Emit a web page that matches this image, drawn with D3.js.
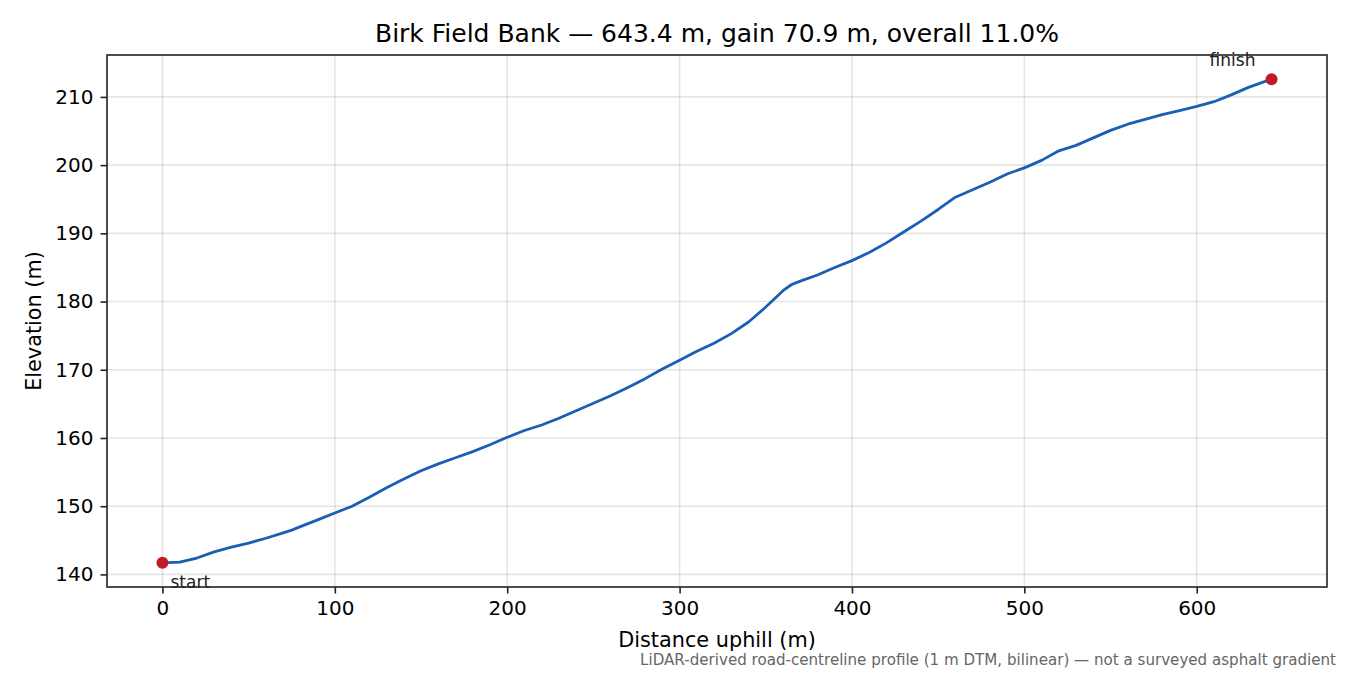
<!DOCTYPE html>
<html>
<head>
<meta charset="utf-8">
<script src="https://cdn.jsdelivr.net/npm/d3@7"></script>
<style>
  body { margin: 0; background: #fff; }
  svg { font-family: 'DejaVu Sans', sans-serif; }
</style>
</head>
<body>
<div id="chart"></div>
<script>
// profile (distance m, elevation m)
const distances = [0, 10, 20, 30, 40, 50, 60, 70, 75, 80, 90, 100, 110, 120, 130, 140,
  150, 160, 170, 180, 190, 200, 210, 220, 230, 240, 250, 260, 270, 280, 290, 300,
  310, 320, 330, 340, 350, 360, 365, 370, 380, 390, 400, 410, 420, 430, 440, 450,
  460, 470, 480, 490, 500, 510, 520, 530, 540, 550, 560, 570, 580, 590, 600, 610,
  620, 630, 643.4];
const elevations = [141.7, 141.8, 142.4, 143.3, 144.0, 144.6, 145.3, 146.1, 146.5, 147.0,
  148.0, 149.0, 150.0, 151.3, 152.7, 154.0, 155.2, 156.2, 157.1, 158.0, 159.0, 160.1,
  161.1, 161.9, 162.9, 164.0, 165.1, 166.2, 167.4, 168.7, 170.1, 171.4, 172.7, 173.9,
  175.3, 177.0, 179.2, 181.6, 182.5, 183.0, 183.9, 185.0, 186.0, 187.2, 188.6, 190.2,
  191.8, 193.5, 195.3, 196.4, 197.5, 198.7, 199.6, 200.7, 202.1, 202.9, 204.0, 205.1,
  206.0, 206.7, 207.4, 208.0, 208.6, 209.3, 210.3, 211.4, 212.6];
const xTicks = [0, 100, 200, 300, 400, 500, 600];
const yTicks = [140, 150, 160, 170, 180, 190, 200, 210];

const titleText = 'Birk Field Bank — 643.4 m, gain 70.9 m, overall 11.0%';
const footText = 'LiDAR-derived road-centreline profile (1 m DTM, bilinear) — not a surveyed asphalt gradient';

const width = 1350, height = 675;
const margins = {left: 107, right: 23, top: 55, bottom: 88};
const innerW = width - margins.left - margins.right;
const innerH = height - margins.top - margins.bottom;

const data = distances.map((d, i) => ({x: d, y: elevations[i]}));

// matplotlib-like 5% padding
const pad = (ext) => {
  const r = ext[1] - ext[0];
  return [ext[0] - r * 0.05, ext[1] + r * 0.05];
};

const scales = {
  x: d3.scaleLinear().domain(pad(d3.extent(distances))).range([0, innerW]),
  y: d3.scaleLinear().domain(pad(d3.extent(elevations))).range([innerH, 0]),
};

const svgRoot = d3.select('#chart').append('svg')
  .attr('width', width).attr('height', height);

const svg = svgRoot.append('g')
  .attr('transform', `translate(${margins.left},${margins.top})`);

// grid
svg.append('g').selectAll('line').data(xTicks).join('line')
  .attr('x1', (d) => scales.x(d)).attr('x2', (d) => scales.x(d))
  .attr('y1', 0).attr('y2', innerH)
  .attr('stroke', '#000').attr('stroke-opacity', 0.1).attr('stroke-width', 1.6);
svg.append('g').selectAll('line').data(yTicks).join('line')
  .attr('y1', (d) => scales.y(d)).attr('y2', (d) => scales.y(d))
  .attr('x1', 0).attr('x2', innerW)
  .attr('stroke', '#000').attr('stroke-opacity', 0.1).attr('stroke-width', 1.6);

// axes
const xAxis = svg.append('g')
  .attr('transform', `translate(0,${innerH})`)
  .call(d3.axisBottom(scales.x).tickValues(xTicks).tickSize(6.5).tickPadding(7));
const yAxis = svg.append('g')
  .call(d3.axisLeft(scales.y).tickValues(yTicks).tickSize(6.5).tickPadding(7));

[xAxis, yAxis].forEach((ax) => {
  ax.select('.domain').remove();
  ax.selectAll('.tick line').attr('stroke', '#222').attr('stroke-width', 1.6);
  ax.selectAll('.tick text')
    .attr('font-family', 'DejaVu Sans, sans-serif')
    .attr('font-size', 20).attr('fill', '#000');
});

// frame
svg.append('rect')
  .attr('width', innerW).attr('height', innerH)
  .attr('fill', 'none').attr('stroke', '#222').attr('stroke-width', 1.6);

// profile line
const line = d3.line().x((d) => scales.x(d.x)).y((d) => scales.y(d.y));
svg.append('path').datum(data)
  .attr('d', line)
  .attr('fill', 'none')
  .attr('stroke', '#1a5fb4')
  .attr('stroke-width', 2.8)
  .attr('stroke-linejoin', 'round');

// start / finish markers
const ends = [data[0], data[data.length - 1]];
svg.selectAll('circle.end').data(ends).join('circle')
  .attr('class', 'end')
  .attr('cx', (d) => scales.x(d.x)).attr('cy', (d) => scales.y(d.y))
  .attr('r', 6).attr('fill', '#c01c28');

svg.append('text')
  .attr('x', scales.x(ends[0].x) + 8).attr('y', scales.y(ends[0].y) + 25.5)
  .attr('font-size', 17).attr('fill', '#222').text('start');
svg.append('text')
  .attr('x', scales.x(ends[1].x) - 39).attr('y', scales.y(ends[1].y) - 13)
  .attr('text-anchor', 'middle')
  .attr('font-size', 17).attr('fill', '#222').text('finish');

// labels
svgRoot.append('text')
  .attr('x', margins.left + innerW / 2).attr('y', 42)
  .attr('text-anchor', 'middle').attr('font-size', 25)
  .text(titleText);

svgRoot.append('text')
  .attr('x', margins.left + innerW / 2).attr('y', 647)
  .attr('text-anchor', 'middle').attr('font-size', 20.8)
  .text('Distance uphill (m)');

svgRoot.append('text')
  .attr('transform', `translate(41,${margins.top + innerH / 2}) rotate(-90)`)
  .attr('text-anchor', 'middle').attr('font-size', 20.8)
  .text('Elevation (m)');

svgRoot.append('text')
  .attr('x', 1336).attr('y', 665)
  .attr('text-anchor', 'end').attr('font-size', 15.1).attr('fill', '#666')
  .text(footText);
</script>
</body>
</html>
